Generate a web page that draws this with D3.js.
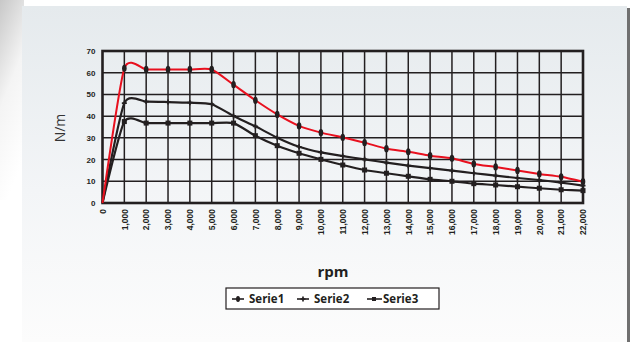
<!DOCTYPE html>
<html>
<head>
<meta charset="utf-8">
<script src="https://cdn.jsdelivr.net/npm/d3@7"></script>
<style>
  html, body { margin: 0; padding: 0; background: #fff; }
  svg { display: block; font-family: "Open Sans", "Noto Sans", sans-serif; }
</style>
</head>
<body>
<svg id="chart" width="630" height="342"></svg>
<script>
// rpm values along the x axis
const rpm = [0, 1000, 2000, 3000, 4000, 5000, 6000, 7000, 8000, 9000, 10000, 11000,
  12000, 13000, 14000, 15000, 16000, 17000, 18000, 19000, 20000, 21000, 22000];

// N/m readings per series
const serie1 = [0, 62, 61.5, 61.5, 61.5, 61.5, 54.5, 47.3, 40.8, 35.5, 32.4, 30.2,
  27.8, 25.0, 23.6, 21.8, 20.6, 18.0, 16.6, 15.0, 13.4, 12.1, 9.8];
const serie2 = [0, 46, 46.7, 46.5, 46.2, 45.5, 40.1, 35.3, 30.1, 25.9, 23.3, 21.6,
  20.1, 18.6, 17.2, 16.1, 14.9, 13.7, 12.6, 11.5, 10.6, 9.4, 8.0];
const serie3 = [0, 37.5, 36.8, 36.8, 36.8, 36.8, 36.8, 31.0, 26.4, 22.9, 20.1, 17.5,
  15.2, 13.7, 12.3, 10.9, 10.0, 8.9, 8.3, 7.5, 6.8, 6.1, 5.7];

const yTicks = [0, 10, 20, 30, 40, 50, 60, 70];
const seriesNames = ['Serie1', 'Serie2', 'Serie3'];

const svg = d3.select('#chart');
const W = 630, H = 342;
const margin = { top: 51, right: 47, bottom: 139, left: 102.5 };
const innerW = W - margin.left - margin.right;
const innerH = H - margin.top - margin.bottom;
const ink = '#231f20';

// background panel + shadows
const defs = svg.append('defs');
const bg = defs.append('linearGradient').attr('id', 'bg').attr('x1', 0).attr('y1', 0).attr('x2', 0).attr('y2', 1);
bg.append('stop').attr('offset', '0%').attr('stop-color', '#e5eaed');
bg.append('stop').attr('offset', '55%').attr('stop-color', '#f3f5f7');
bg.append('stop').attr('offset', '100%').attr('stop-color', '#fcfcfc');
const sh = defs.append('linearGradient').attr('id', 'sh').attr('x1', 0).attr('y1', 0).attr('x2', 0.3).attr('y2', 1);
sh.append('stop').attr('offset', '0%').attr('stop-color', '#c8c8c8');
sh.append('stop').attr('offset', '50%').attr('stop-color', '#f4f4f4');
sh.append('stop').attr('offset', '100%').attr('stop-color', '#ffffff');

svg.append('rect').attr('x', 0).attr('y', 0).attr('width', 24).attr('height', 200).attr('fill', 'url(#sh)');
svg.append('rect').attr('x', 22).attr('y', 6).attr('width', 605).attr('height', H - 6).attr('fill', 'url(#bg)');
svg.append('rect').attr('x', 627).attr('y', 8).attr('width', 3).attr('height', H - 8).attr('fill', '#707070');

const x = d3.scaleLinear().domain([0, 22000]).range([0, innerW]);
const y = d3.scaleLinear().domain([0, 70]).range([innerH, 0]);

const g = svg.append('g').attr('transform', `translate(${margin.left},${margin.top})`);

// grid
g.append('g')
  .selectAll('line')
  .data(rpm.slice(1, -1))
  .join('line')
  .attr('x1', d => x(d)).attr('x2', d => x(d))
  .attr('y1', 0).attr('y2', innerH)
  .attr('stroke', ink).attr('stroke-width', 1.5);
g.append('g')
  .selectAll('line')
  .data(yTicks.slice(1, -1))
  .join('line')
  .attr('x1', 0).attr('x2', innerW)
  .attr('y1', d => y(d)).attr('y2', d => y(d))
  .attr('stroke', ink).attr('stroke-width', 1.5);

// axes
const yAxis = g.append('g')
  .call(d3.axisLeft(y).tickValues(yTicks).tickSize(0).tickPadding(7));
yAxis.select('.domain').remove();
yAxis.selectAll('text')
  .attr('font-size', '8px').attr('font-weight', '700').attr('fill', ink);

const xAxis = g.append('g')
  .attr('transform', `translate(0,${innerH})`)
  .call(d3.axisBottom(x).tickValues(rpm).tickSize(0).tickFormat(d3.format(',')));
xAxis.select('.domain').remove();
xAxis.selectAll('text')
  .attr('font-size', '8.5px').attr('font-weight', '700').attr('fill', ink)
  .attr('transform', 'rotate(-90)')
  .attr('text-anchor', 'end')
  .attr('x', -6).attr('y', 0).attr('dy', '0.33em');

// frame
g.append('rect').attr('width', innerW).attr('height', innerH)
  .attr('fill', 'none').attr('stroke', ink).attr('stroke-width', 2.6);

// lines
const line = d3.line()
  .x((d, i) => x(rpm[i]))
  .y(d => y(d))
  .curve(d3.curveCardinal.tension(0.4));

g.append('path').datum(serie3).attr('d', line)
  .attr('fill', 'none').attr('stroke', ink).attr('stroke-width', 2.2);
g.append('path').datum(serie2).attr('d', line)
  .attr('fill', 'none').attr('stroke', ink).attr('stroke-width', 2.2);
g.append('path').datum(serie1).attr('d', line)
  .attr('fill', 'none').attr('stroke', '#e8101e').attr('stroke-width', 2);

// markers
g.append('g').selectAll('rect')
  .data(serie3.slice(1))
  .join('rect')
  .attr('x', (d, i) => x(rpm[i + 1]) - 2.5)
  .attr('y', d => y(d) - 2.5)
  .attr('width', 5).attr('height', 5)
  .attr('fill', ink);

g.append('g').selectAll('path')
  .data(serie2.slice(1))
  .join('path')
  .attr('transform', (d, i) => `translate(${x(rpm[i + 1])},${y(d)})`)
  .attr('d', d3.symbol(d3.symbolCross, 14))
  .attr('fill', ink);

g.append('g').selectAll('ellipse')
  .data(serie1.slice(1))
  .join('ellipse')
  .attr('cx', (d, i) => x(rpm[i + 1]))
  .attr('cy', d => y(d))
  .attr('rx', 2.3).attr('ry', 3.6)
  .attr('fill', ink);

// axis titles
svg.append('text')
  .attr('transform', 'translate(65,128) rotate(-90)')
  .attr('text-anchor', 'middle')
  .attr('font-size', '14px').attr('fill', '#333')
  .text('N/m');

svg.append('text')
  .attr('x', 333).attr('y', 277)
  .attr('text-anchor', 'middle')
  .attr('font-size', '15px').attr('font-weight', '700').attr('fill', ink)
  .text('rpm');

// legend
const lg = svg.append('g').attr('transform', 'translate(226,288)');
lg.append('rect').attr('width', 213).attr('height', 21)
  .attr('fill', '#fff').attr('stroke', ink).attr('stroke-width', 1.2);
const lx = [6, 71, 141];
seriesNames.forEach((name, i) => {
  const item = lg.append('g').attr('transform', `translate(${lx[i]},11)`);
  item.append('line').attr('x1', 0).attr('x2', i === 2 ? 15 : 12)
    .attr('stroke', ink).attr('stroke-width', 1.6);
  if (i === 0) item.append('ellipse').attr('cx', 6).attr('rx', 2).attr('ry', 3).attr('fill', ink);
  if (i === 1) item.append('path').attr('transform', 'translate(6,0)').attr('d', d3.symbol(d3.symbolCross, 14)).attr('fill', ink);
  if (i === 2) item.append('rect').attr('x', 5).attr('y', -2).attr('width', 4).attr('height', 4).attr('fill', ink);
  item.append('text')
    .attr('x', i === 2 ? 16 : 17).attr('y', 4)
    .attr('font-size', '11.5px').attr('font-weight', '700').attr('fill', ink)
    .text(name);
});
</script>
</body>
</html>
